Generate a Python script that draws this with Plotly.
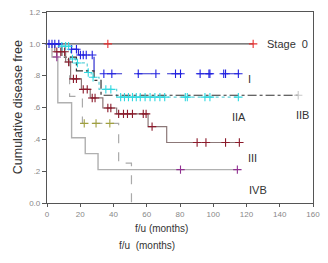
import numpy as np
import plotly.graph_objects as go

# ---------------- data (months, survival proportion) ----------------
s0_t = [0, 124.0]
s0_s = [1.0, 1.0]
s0_c = [36.6, 124.0]

i_t = [0, 13.6, 18.9, 28.3, 115.7]
i_s = [1.0, 0.966, 0.93, 0.812, 0.812]
i_c = [1.2, 3.0, 4.7, 7.1, 14.8, 17.7, 20.1, 21.8, 23.6, 27.2, 34.2, 39.0, 54.9,
       65.5, 77.3, 80.3, 92.1, 97.4, 98.0, 106.3, 107.4, 115.1]

iia_t = [0, 7.7, 14.2, 17.1, 24.2, 26.6, 31.3, 41.9, 115.1]
iia_s = [1.0, 0.985, 0.905, 0.88, 0.82, 0.79, 0.714, 0.665, 0.665]
iia_c = [8.9, 11.2, 13.0, 15.3, 18.3, 24.8, 27.7, 35.4, 38.4, 44.3, 46.6, 49.0, 51.4,
         53.7, 56.1, 59.0, 62.0, 64.9, 67.9, 70.8, 83.2, 84.4, 95.0, 98.0, 115.1]

iib_t = [0, 8.9, 17.7, 28.3, 32.5, 151.1]
iib_s = [1.0, 0.917, 0.83, 0.77, 0.677, 0.677]
iib_c = [151.1]

iii_t = [0, 4.7, 11.2, 14.2, 20.7, 26.0, 33.6, 41.9, 60.8, 72.0, 115.7]
iii_s = [1.0, 0.95, 0.886, 0.78, 0.714, 0.66, 0.597, 0.56, 0.48, 0.38, 0.38]
iii_c = [5.9, 8.3, 10.6, 13.0, 15.9, 17.7, 21.8, 24.2, 27.2, 28.9, 36.6, 38.4, 43.1,
         46.0, 48.4, 51.4, 57.9, 59.6, 63.2, 90.3, 95.6, 107.4, 115.7]

iva_t = [0, 8.9, 13.6, 21.3, 43.1, 50.8]
iva_s = [1.0, 0.90, 0.67, 0.50, 0.25, 0.0]
iva_c = [22.4, 29.5, 37.8]

ivb_t = [0, 3.0, 6.5, 14.8, 23.0, 30.7, 114.5]
ivb_s = [1.0, 0.917, 0.63, 0.41, 0.31, 0.21, 0.21]
ivb_c = [5.9, 80.3, 114.5]

x_ticks = [0, 20, 40, 60, 80, 100, 120, 140, 160]
y_ticks = [0.0, 0.2, 0.4, 0.6, 0.8, 1.0, 1.2]
y_ticktext = ["0.0", ".2", ".4", ".6", ".8", "1.0", "1.2"]

# ---------------- figure ----------------
def step_val(ts, ss, c):
    idx = np.searchsorted(np.array(ts), np.array(c), side="right") - 1
    return [ss[i] for i in idx]

groups = [
    (s0_t, s0_s, s0_c, "#555555", "solid", 1.2, "#e83030"),
    (i_t, i_s, i_c, "#3030d0", "longdash", 1.2, "#2020e0"),
    (iia_t, iia_s, iia_c, "#60d0d8", "dot", 1.2, "#30d8e0"),
    (iib_t, iib_s, iib_c, "#333333", "dashdot", 1.2, "#c8c8c8"),
    (iii_t, iii_s, iii_c, "#8c7878", "solid", 1.2, "#8b1a2b"),
    (iva_t, iva_s, iva_c, "#aaaaaa", "dash", 1.2, "#a0a040"),
    (ivb_t, ivb_s, ivb_c, "#b0b0b0", "solid", 1.4, "#903090"),
]

fig = go.Figure()
for ts, ss, cs, col, dash, w, mcol in groups:
    fig.add_trace(go.Scatter(x=ts, y=ss, mode="lines", line_shape="hv",
                             line=dict(color=col, dash=dash, width=w),
                             hoverinfo="skip", cliponaxis=False))
for ts, ss, cs, col, dash, w, mcol in groups:
    fig.add_trace(go.Scatter(x=cs, y=step_val(ts, ss, cs), mode="markers",
                             marker=dict(symbol="cross-thin", size=6,
                                         line=dict(color=mcol, width=1.1)),
                             hoverinfo="skip", cliponaxis=False))

lab_font = dict(family="Liberation Sans, Arial", size=11, color="#333333")
labels = [
    ("Stage  0", 144.6, 1.0, False),
    ("I", 121.6, 0.78, False),
    ("IIA", 115.7, 0.54, False),
    ("IIB", 153.5, 0.554, True),
    ("III", 123.4, 0.283, False),
    ("IVB", 126.9, 0.08, False),
    ("IVA", 60.8, -0.06, True),
]
for txt, x, y, bg in labels:
    fig.add_annotation(x=x, y=y, xref="x", yref="y", text=txt, showarrow=False,
                       font=lab_font, bgcolor="white" if bg else None,
                       borderpad=1)

fig.add_annotation(x=-0.11, y=0.5, xref="paper", yref="paper",
                   text="Cumulative disease free", textangle=-90, showarrow=False,
                   font=dict(family="Liberation Sans, Arial", size=12.5, color="#333333"),
                   xanchor="center", yanchor="middle")
fig.add_annotation(x=(165 - 47) / 273, y=(203 - 237) / 195, xref="paper", yref="paper",
                   text="f/u (months)", showarrow=False,
                   font=dict(family="Liberation Sans, Arial", size=10, color="#333333"))
fig.add_annotation(x=(150 - 47) / 273, y=(203 - 254) / 195, xref="paper", yref="paper",
                   text="f/u  (months)", showarrow=False,
                   font=dict(family="Liberation Sans, Arial", size=10, color="#333333"))

tick_font = dict(family="Liberation Sans, Arial", size=8, color="#888888")
fig.update_xaxes(range=[0, 160], tickvals=x_ticks, ticks="outside", ticklen=3,
                 tickcolor="#555555", showline=True, linecolor="#555555", linewidth=1.2,
                 mirror=True, showgrid=False, zeroline=False, tickfont=tick_font)
fig.update_yaxes(range=[0, 1.2], tickvals=y_ticks, ticktext=y_ticktext, ticks="outside",
                 ticklen=4, tickcolor="#555555", showline=True, linecolor="#555555",
                 linewidth=1.2, mirror=True, showgrid=False, zeroline=False,
                 tickfont=tick_font)
fig.update_layout(width=328, height=263, margin=dict(l=47, r=8, t=8, b=60),
                  paper_bgcolor="white", plot_bgcolor="white", showlegend=False)

fig.write_html("out.html")
